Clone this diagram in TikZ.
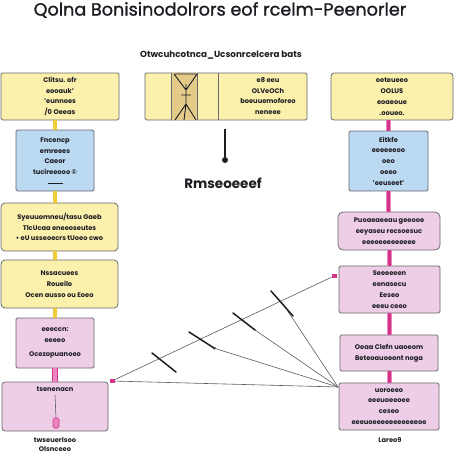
\documentclass[tikz,border=0pt]{standalone}
\usepackage{fontspec}
\setmainfont{Poppins}
\newfontfamily\titlefont{Poppins}[FakeBold=1.2]
\usetikzlibrary{arrows.meta}

\definecolor{flowPaper}{RGB}{255,255,255}
\definecolor{flowEdge}{RGB}{105,105,112}
\definecolor{flowYellow}{RGB}{251,240,172}
\definecolor{flowTan}{RGB}{228,204,136}
\definecolor{flowBlue}{RGB}{188,217,242}
\definecolor{flowPink}{RGB}{238,206,230}
\definecolor{flowRose}{RGB}{236,132,192}
\definecolor{flowMagenta}{RGB}{212,52,136}
\definecolor{flowGold}{RGB}{236,204,56}
\definecolor{flowInk}{RGB}{28,28,34}
\definecolor{flowWire}{RGB}{92,92,98}

\begin{document}
\begin{tikzpicture}[x=1pt,y=-1pt,
      heading/.style={font=\fontsize{17.6}{19}\titlefont, text=flowInk},
      subheading/.style={font=\fontsize{8.8}{9}\selectfont\bfseries, text=flowInk},
      tag/.style={font=\fontsize{13.5}{14}\selectfont\bfseries, text=flowInk},
      note/.style={font=\fontsize{6.7}{10.8}\selectfont\bfseries,
        text=flowInk, align=center},
      card/.style={note, draw=flowEdge, line width=.8pt, inner sep=1pt,
        rounded corners=1.5pt},
      yellowcard/.style={card, fill=flowYellow},
      bluecard/.style={card, fill=flowBlue},
      pinkcard/.style={card, fill=flowPink},
      goldlink/.style={draw=flowEdge, line width=.5pt, double=flowGold,
        double distance=3.4pt},
      pinklink/.style={draw=flowRose, line width=1pt, double=flowMagenta,
        double distance=3pt},
      pinkpeg/.style={draw=flowMagenta, line width=.6pt, fill=flowRose,
        rounded corners=1.5pt, inner sep=0pt},
      plug/.style={fill=flowMagenta, minimum width=5pt, minimum height=4.5pt,
        inner sep=0pt},
      wire/.style={draw=flowWire, line width=.6pt},
      tick/.style={draw=flowInk, line width=1.5pt, line cap=round}]
      \useasboundingbox (0,0) rectangle (474,474);
      \fill[flowPaper] (0,0) rectangle (474,474);

      \node[heading] (title) at (220,10) {Qolna Bonisinodolrors eof rcelm-Peenorler};
      \node[subheading] (subtitle) at (221,55) {Otwcuhcotnca\_Ucsonrcelcera bats};

      % left column
      \node[yellowcard, minimum width=118pt, minimum height=47pt] (left1) at (60,96.5)
        {Clitsu. ofr\\ eooauk'\\ 'eunnoes\\ /0 Oeeas};
      \node[bluecard, minimum width=78pt, minimum height=61pt] (left2) at (55,160.5)
        {Fncencp\\ emreees\\ Caeor\\ tucireeooo ©\\[-2pt] \rule{15pt}{.8pt}};
      \node[yellowcard, rounded corners=4pt, minimum width=117pt, minimum height=48pt]
        (left3) at (59.5,227)
        {Syeuuomneu/tasu Gaeb\\ TlcUcaa eneeoseutes\\ \textbullet{} eU usseoecrs tUoeo cwo};
      \node[yellowcard, rounded corners=4pt, minimum width=117pt, minimum height=48pt]
        (left4) at (59.5,284)
        {Nssacuees\\ Roueilo\\ Ocen ausso ou Eoeo};
      \node[pinkcard, minimum width=78pt, minimum height=50pt] (left5) at (55,343)
        {eeeccn:\\ eeeeo\\[3pt] Ocezopuanoeo};
      \node[pinkcard, rounded corners=3pt, minimum width=106pt, minimum height=49pt]
        (left6) at (55,406.5) {};
      \node[note] (left6Note) at (55,389) {tsenenacn};
      \node[pinkpeg, minimum width=6pt, minimum height=10pt] (left6Pin) at (56,423) {};
      \node[note, font=\fontsize{6.7}{9}\selectfont\bfseries] (left6Caption) at (55,444.5)
        {twseuerlsoo\\ Olsnceeo};

      \draw[goldlink] (left2.north) -- (left2.north |- left1.south);
      \draw[goldlink] (left2.south) -- (left2.south |- left3.north);
      \draw[goldlink] (left3.south -| left2) -- (left4.north -| left2);
      \draw[goldlink] (left4.south -| left5) -- (left5.north);
      \draw[pinkpeg, double=flowRose, double distance=4pt] (left5.south) -- (left6.north);
      \draw[wire] (left6Note.south) -- (left6Pin.north);

      % middle
      \node[yellowcard, minimum width=162pt, minimum height=47pt] (middle) at (226,96.5) {};
      \fill[flowTan] (171,73) rectangle (197,120);
      \draw[flowEdge, line width=.6pt] (171,73) -- (171,120) (197,73) -- (197,120)
        (218,73) -- (218,120);
      \draw[flowInk, line width=.9pt, line join=round]
        (174,74) -- (186,90) -- (197,74) (175,74) -- (196,74)
        (186,84) -- (186,104) (181,95) -- (191,95)
        (175,120) -- (186,104) -- (196,120) (186,104) -- (184,120);
      \node[note] (middleNote) at (268,96) {e8 eeu\\ OLVeOCh\\ boeuuemoforeo\\ neneee};
      \coordinate (stemTop) at (225,129);
      \node[circle, fill=flowInk, inner sep=0pt, minimum size=6pt] (stemDot) at (225,160) {};
      \draw[flowInk, line width=1.8pt] (stemTop) -- (stemDot);
      \node[tag] (middleTag) at (223,183) {Rmseoeeef};

      % right column
      \node[yellowcard, rounded corners=3pt, minimum width=122pt, minimum height=47pt]
        (right1) at (392,96.5) {oeteueeo\\ OOLUS\\ eoaeoue\\ .ooueo.};
      \node[bluecard, minimum width=79pt, minimum height=60pt] (right2) at (388.5,161)
        {Eitkfe\\ eeeeeeoo\\ oeo\\ oeeo\\ 'eeuseet'};
      \node[pinkcard, rounded corners=5pt, minimum width=102pt, minimum height=38pt]
        (right3) at (389,231)
        {Puoaeaeeau geeooe\\ eeyaseu recsoesuc\\ eeeeeeeeeeeee};
      \node[pinkcard, minimum width=101pt, minimum height=47pt] (right4) at (389.5,289.5)
        {Seeeeeen\\ eenasecu\\ Eeseo\\ eeeu ceeo};
      \node[pinkcard, minimum width=98pt, minimum height=36pt] (right5) at (389,353)
        {Oeaa Clefn uaoeom\\ Beteoauoeont noga};
      \node[pinkcard, minimum width=100pt, minimum height=47pt] (right6) at (389,406.5)
        {uoroeeo\\ eeeuoeeoee\\ ceseo\\ eeeuoeeeeeeeeeeeoe};
      \node[note] (right6Caption) at (390,440) {Lareo9};

      \draw[pinklink] (right1.south -| right2) -- (right2.north);
      \draw[pinklink] (right2.south) -- (right2.south |- right3.north);
      \draw[pinklink] (right3.south) -- (right4.north -| right3);
      \draw[pinklink] (right4.south -| right5) -- (right5.north);
      \draw[pinklink] (right5.south) -- (right6.north -| right5);

      % fan of wires
      \node[plug] (plugLeft) at (112,381) {};
      \node[plug] (plugRight) at (334,276) {};
      \coordinate (hub) at (338,387);
      \coordinate (tickA1) at (152,353); \coordinate (tickA2) at (176,372);
      \coordinate (tickB1) at (189,332); \coordinate (tickB2) at (214,348);
      \coordinate (tickC1) at (233,313); \coordinate (tickC2) at (255,330);
      \coordinate (tickD1) at (271,291); \coordinate (tickD2) at (293,316);
      \draw[wire] (plugLeft) -- (plugRight);
      \draw[wire] (plugLeft) -- (hub);
      \draw[wire, -{Stealth[length=4pt,width=3.5pt]}] (hub) -- (212,347.5);
      \draw[wire] (hub) -- (tickC2);
      \draw[wire] (hub) -- (287,310);
      \foreach \t in {A,B,C,D}{
        \draw[tick] (tick\t1) -- (tick\t2);}
    \end{tikzpicture}
\end{document}
